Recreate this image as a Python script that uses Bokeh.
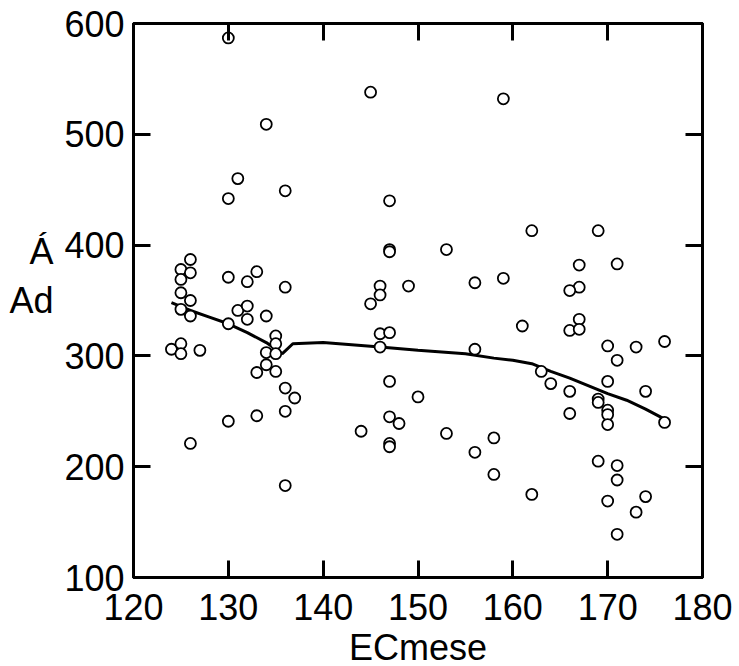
from bokeh.plotting import figure
from bokeh.models import LinearAxis, SingleIntervalTicker
from bokeh.embed import file_html
from bokeh.resources import INLINE

# scatter data (ECmese vs Ad)
ec = [130, 134, 131, 130, 136,
      126, 125, 126, 125, 130, 133, 132, 136, 125, 126,
      125, 126, 131, 132, 132, 134, 130, 135, 135, 134, 135,
      124, 125, 125, 127, 134, 133, 135, 136, 137, 136, 133, 130, 126, 136,
      145, 159, 147, 147, 147, 153, 146, 149, 156, 159, 146, 145,
      146, 147, 146, 156, 147, 150, 147, 148, 144, 147, 147, 153, 158, 156, 158,
      162, 169, 167, 171, 167, 166, 161, 167, 166, 167, 170, 173, 176, 171, 163, 164, 166, 170, 174, 169,
      169, 170, 170, 166, 170, 176, 169, 171, 171, 162, 170, 174, 173, 171]
ad = [587, 509, 460, 442, 449,
      387, 378, 375, 369, 371, 376, 367, 362, 357, 350,
      342, 336, 341, 345, 333, 336, 329, 318, 311, 303, 302,
      306, 311, 302, 305, 292, 285, 286, 271, 262, 250, 246, 241, 221, 183,
      538, 532, 440, 396, 394, 396, 363, 363, 366, 370, 355, 347,
      320, 321, 308, 306, 277, 263, 245, 239, 232, 221, 218, 230, 226, 213, 193,
      413, 413, 382, 383, 362, 359, 327, 333, 323, 324, 309, 308, 313, 296, 286, 275, 268, 277, 268, 261,
      258, 251, 247, 248, 238, 240, 205, 201, 188, 175, 169, 173, 159, 139]

# smoothed curve
fit_x = [124, 126, 128, 130, 132, 134, 135.7, 136.8, 140, 146, 150, 155, 158, 160, 162, 164, 166, 168, 170, 172, 174, 176]
fit_y = [348, 341, 335, 329, 321, 312, 302, 311, 312, 308, 305, 302, 298, 296, 293, 286, 280, 273, 266, 260, 252, 243]

x_ticks_interval = 10
y_ticks_interval = 100
x_title = "ECmese"
y_title = "Á\nAd\n"

FONT = "Liberation Sans"
FS = "36px"

p = figure(x_range=(120, 180), y_range=(100, 600),
           frame_width=569, frame_height=554,
           min_border_left=133, min_border_top=23, min_border_right=34, min_border_bottom=70,
           output_backend="svg", toolbar_location=None,
           x_axis_location=None, y_axis_location=None)
p.grid.visible = False
p.outline_line_color = "black"
p.outline_line_width = 3
p.background_fill_color = "white"
p.border_fill_color = "white"


def make_axis(ticker, labels=True, standoff=8, label=None):
    ax = LinearAxis(ticker=ticker)
    ax.axis_line_width = 3
    ax.axis_line_color = "black"
    ax.major_tick_in = 17
    ax.major_tick_out = 0
    ax.major_tick_line_width = 3
    ax.minor_tick_line_color = None
    ax.major_label_text_font = FONT
    if labels:
        ax.major_label_text_color = "black"
        ax.major_label_text_font_size = FS
        ax.major_label_standoff = standoff
    else:
        ax.major_label_text_color = None
        ax.major_label_text_font_size = "1px"
        ax.major_label_standoff = 0
    if label:
        ax.axis_label = label
        ax.axis_label_text_font = FONT
        ax.axis_label_text_font_size = FS
        ax.axis_label_text_font_style = "normal"
        ax.axis_label_text_color = "black"
        ax.axis_label_standoff = 4
    return ax


bottom = make_axis(SingleIntervalTicker(interval=x_ticks_interval), True, 12, x_title)
p.add_layout(bottom, "below")
left = make_axis(SingleIntervalTicker(interval=y_ticks_interval), True, 5, y_title)
left.axis_label_orientation = "horizontal"
left.axis_label_text_align = "left"
left.axis_label_standoff = 8
p.add_layout(left, "left")
p.add_layout(make_axis(SingleIntervalTicker(interval=x_ticks_interval), False), "above")
p.add_layout(make_axis(SingleIntervalTicker(interval=y_ticks_interval), False), "right")

p.line(fit_x, fit_y, line_color="black", line_width=3)
p.scatter(ec, ad, marker="circle", size=11, fill_color="white", line_color="black", line_width=1.8)

open("out.html", "w").write(file_html(p, INLINE))
